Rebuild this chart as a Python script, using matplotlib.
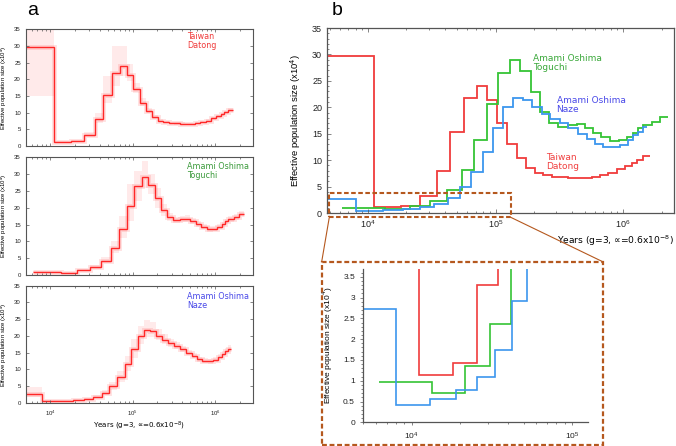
import numpy as np
import matplotlib
matplotlib.use("Agg")
import matplotlib.pyplot as plt
from matplotlib.patches import Rectangle
from matplotlib.lines import Line2D
from matplotlib.ticker import LogLocator, MultipleLocator, NullFormatter

plt.rcParams["font.family"] = ["Liberation Sans", "DejaVu Sans"]

# PSMC step curves: edges in years, Ne in units of 10^4
taiwan_t = [4000, 11100, 18100, 25700, 34700, 44000, 57000, 71100, 85300, 102100,
            122500, 146600, 173400, 204200, 237100, 275400, 319900, 372400, 432500,
            501200, 575400, 660700, 767400, 891300, 1038000, 1169000, 1279000,
            1442000, 1629000]
taiwan_ne = [29.7, 1.15, 1.42, 3.3, 8.0, 15.4, 21.8, 24.0, 21.4, 17.0, 13.0, 10.5,
             8.6, 7.6, 7.2, 6.9, 6.8, 6.7, 6.6, 6.6, 6.9, 7.2, 7.6, 8.3, 8.9, 9.5,
             10.1, 10.7]
taiwan_hi = [36, 1.6, 1.9, 4.2, 10, 21, 30, 30, 24.5, 19, 14.5, 11.3, 9.2, 8.1, 7.6,
             7.3, 7.2, 7.1, 7.0, 7.0, 7.3, 7.6, 8.0, 8.7, 9.3, 9.9, 10.6, 11.4]
taiwan_lo = [15, 0.9, 1.1, 2.8, 6.8, 13, 18, 21, 19.5, 15.8, 12, 9.8, 8.1, 7.2, 6.8,
             6.5, 6.4, 6.3, 6.2, 6.2, 6.5, 6.8, 7.2, 7.9, 8.5, 9.1, 9.6, 10.2]

toguchi_t = [6300, 13500, 21400, 30900, 41700, 54300, 68200, 86300, 105200, 130000,
             154900, 188800, 223400, 263000, 311200, 372400, 433500, 503500, 584800,
             668300, 790700, 935400, 1069000, 1205000, 1318000, 1442000, 1679000,
             1950000, 2265000]
toguchi_ne = [0.98, 0.70, 1.36, 2.36, 4.3, 8.1, 13.8, 20.6, 26.5, 29.0, 26.9, 22.8,
              19.2, 17.1, 16.3, 16.6, 16.8, 16.0, 15.1, 14.4, 13.7, 13.8, 14.4, 15.1,
              16.0, 16.6, 17.3, 18.2]
toguchi_hi = [1.2, 0.9, 1.7, 2.9, 5.5, 10, 17.5, 27, 31, 34, 30, 26, 21, 18.5, 17.3,
              17.5, 17.7, 16.9, 16.0, 15.2, 14.5, 14.6, 15.2, 15.9, 16.8, 17.4, 18.1, 19.0]
toguchi_lo = [0.8, 0.55, 1.1, 1.9, 3.5, 6.5, 11, 16, 22, 26, 24, 20, 17.5, 16, 15.4,
              15.7, 15.9, 15.1, 14.2, 13.6, 12.9, 13.0, 13.6, 14.3, 15.2, 15.8, 16.5, 17.4]

naze_t = [4470, 8000, 13000, 18800, 25500, 33000, 42200, 52500, 64600, 80200, 96200,
          115100, 138000, 163300, 192300, 230100, 267300, 320600, 372400, 445700,
          518800, 602600, 701500, 814700, 946200, 1100000, 1205000, 1318000, 1442000,
          1549000]
naze_ne = [2.72, 0.42, 0.55, 0.77, 1.10, 1.73, 2.92, 4.9, 7.7, 11.6, 16.0, 20.0, 21.7,
           21.3, 20.0, 18.7, 17.8, 17.0, 16.0, 15.0, 14.0, 13.0, 12.5, 12.4, 12.9, 13.8,
           14.7, 15.4, 16.2]
naze_hi = [4.6, 0.7, 0.8, 1.0, 1.4, 2.2, 3.7, 6.2, 9.5, 14, 19, 23, 24.8, 24, 22, 20.5,
           19.2, 18.2, 17, 15.9, 14.8, 13.8, 13.3, 13.2, 13.7, 14.6, 15.5, 16.3, 17.2]
naze_lo = [1.6, 0.25, 0.35, 0.55, 0.85, 1.35, 2.3, 3.9, 6.2, 9.5, 13.5, 17.5, 19.8,
           19.8, 18.8, 17.7, 16.8, 16.0, 15.1, 14.2, 13.3, 12.3, 11.8, 11.7, 12.2, 13.0,
           13.9, 14.6, 15.3]

RED = "#f03c3c"
GREEN = "#35c435"
BLUE = "#3c96ee"
BROWN = "#b5581e"
SPINE = "#555555"
ylab = "Effective population size (x10$^4$)"
# DejaVu Sans carries the proportional sign, Liberation Sans does not
xlab = "Years (g=3, \u221d=0.6x10$^{-8}$)"

fig = plt.figure(figsize=(6.76, 4.46), dpi=100)


def style_log_x(ax):
    ax.set_xscale("log")
    ax.xaxis.set_major_locator(LogLocator(base=10))
    ax.xaxis.set_minor_locator(LogLocator(base=10, subs=np.arange(2, 10)))
    ax.xaxis.set_minor_formatter(NullFormatter())


# ---- panel a: one box per population with bootstrap cloud ----
rects_a = [[0.038, 0.6726, 0.3358, 0.2617],
           [0.038, 0.3834, 0.3358, 0.2639],
           [0.038, 0.0971, 0.3358, 0.2623]]
series_a = [(taiwan_t, taiwan_ne, taiwan_lo, taiwan_hi, "Taiwan\nDatong", "#f03a3a", 0.975),
            (toguchi_t, toguchi_ne, toguchi_lo, toguchi_hi, "Amami Oshima\nToguchi", "#3a9a3a", 0.958),
            (naze_t, naze_ne, naze_lo, naze_hi, "Amami Oshima\nNaze", "#4848e8", 0.945)]

for i, (rect, s) in enumerate(zip(rects_a, series_a)):
    t, ne, lo, hi, name, tcol, ty = s
    ax = fig.add_axes(rect)
    ax.stairs(hi, t, baseline=lo, fill=True, color="#ffa0a0", alpha=0.22, lw=0)
    ax.stairs(ne, t, baseline=None, color="#ff3030", lw=3.5, alpha=0.15)
    ax.stairs(ne, t, baseline=None, color="#ff2828", lw=1.0)
    style_log_x(ax)
    ax.set_xlim(5070, 2.86e6)
    ax.set_ylim(0, 35)
    ax.set_yticks(range(0, 36, 5))
    ax.tick_params(which="both", direction="in", top=True, right=True,
                   labelsize=4.3, colors=SPINE, labelcolor="#222222", width=0.5)
    ax.tick_params(which="major", length=2.5)
    ax.tick_params(which="minor", length=1.3)
    ax.tick_params(axis="x", pad=4)
    for sp in ax.spines.values():
        sp.set_color(SPINE)
        sp.set_linewidth(0.8)
    ax.set_ylabel(ylab, fontsize=4.3)
    ax.yaxis.set_label_coords(-0.072, 0.5)
    ax.text(0.712, ty, name, transform=ax.transAxes, color=tcol, fontsize=5.8,
            va="top", ha="left", family="DejaVu Sans", linespacing=1.0)
    if i < 2:
        ax.tick_params(axis="x", labelbottom=False)
    else:
        ax.set_xlabel(xlab, fontsize=5.1, family="DejaVu Sans")
        ax.xaxis.set_label_coords(0.5, -0.145)

fig.text(27 / 676, 1 - 15 / 446, "a", fontsize=14, va="baseline")
fig.text(332 / 676, 1 - 15 / 446, "b", fontsize=14, va="baseline")

# ---- panel b: all three populations together ----
axb = fig.add_axes([0.4837, 0.5224, 0.5138, 0.4148])
axb.stairs(taiwan_ne, taiwan_t, baseline=None, color=RED, lw=1.3)
axb.stairs(toguchi_ne, toguchi_t, baseline=None, color=GREEN, lw=1.3)
axb.stairs(naze_ne, naze_t, baseline=None, color=BLUE, lw=1.3)
style_log_x(axb)
axb.set_xlim(4770, 2.52e6)
axb.set_ylim(0, 35)
axb.set_yticks(range(0, 36, 5))
axb.yaxis.set_minor_locator(MultipleLocator(1))
axb.tick_params(which="both", direction="in", top=True, right=False,
                labelsize=6.5, colors=SPINE, labelcolor="#222222", width=0.5)
axb.tick_params(which="major", length=3)
axb.tick_params(which="minor", length=1.5)
axb.tick_params(axis="x", pad=4)
for sp in axb.spines.values():
    sp.set_color(SPINE)
    sp.set_linewidth(0.9)
axb.set_ylabel(ylab, fontsize=6.8)
axb.yaxis.set_label_coords(-0.068, 0.5)
axb.set_xlabel(xlab, fontsize=6.6, loc="right", family="DejaVu Sans")
axb.xaxis.set_label_coords(1.0, -0.11)
axb.text(0.594, 0.858, "Amami Oshima\nToguchi", transform=axb.transAxes, color="#3aa83a",
         fontsize=6.5, va="top", family="DejaVu Sans", linespacing=1.0)
axb.text(0.661, 0.630, "Amami Oshima\nNaze", transform=axb.transAxes, color="#4848e8",
         fontsize=6.5, va="top", family="DejaVu Sans", linespacing=1.0)
axb.text(0.631, 0.322, "Taiwan\nDatong", transform=axb.transAxes, color="#f04040",
         fontsize=6.5, va="top", family="DejaVu Sans", linespacing=1.0)

# zoom box in panel b
axb.add_patch(Rectangle((4966, -0.81), 1.315e5 - 4966, 4.65, fill=False,
                        ec=BROWN, lw=1.5, ls=(0, (2.2, 1.2)), clip_on=False, zorder=5))

# ---- inset: zoom on the bottleneck ----
axi = fig.add_axes([0.5374, 0.0531, 0.3324, 0.343])
axi.stairs(taiwan_ne, taiwan_t, baseline=None, color=RED, lw=1.2)
axi.stairs(toguchi_ne, toguchi_t, baseline=None, color=GREEN, lw=1.2)
axi.stairs(naze_ne, naze_t, baseline=None, color=BLUE, lw=1.2)
style_log_x(axi)
axi.set_xlim(5000, 1.26e5)
axi.set_ylim(0, 3.68)
axi.set_yticks(np.arange(0, 3.6, 0.5))
axi.set_yticklabels(["0", "0.5", "1", "1.5", "2", "2.5", "3", "3.5"])
axi.yaxis.set_minor_locator(MultipleLocator(0.1))
axi.spines[["top", "right"]].set_visible(False)
for sp in ("left", "bottom"):
    axi.spines[sp].set_color(SPINE)
    axi.spines[sp].set_linewidth(0.9)
axi.tick_params(which="both", direction="out", labelsize=6, colors=SPINE,
                labelcolor="#222222", width=0.5)
axi.tick_params(which="major", length=2.5)
axi.tick_params(which="minor", length=1.3)
axi.set_ylabel(ylab, fontsize=6)
axi.yaxis.set_label_coords(-0.126, 0.5)

# dashed frame around inset and connector lines
W, H = 676, 446
fig.add_artist(Rectangle((321.7 / W, 1 - 445 / H), (602.7 - 321.7) / W, (445 - 261.7) / H,
                         transform=fig.transFigure, fill=False, ec=BROWN, lw=1.6,
                         ls=(0, (2.2, 1.2))))
fig.add_artist(Line2D([329.3 / W, 321.7 / W], [1 - 217.3 / H, 1 - 261.7 / H],
                      transform=fig.transFigure, color=BROWN, lw=0.8))
fig.add_artist(Line2D([510.7 / W, 602.7 / W], [1 - 217.3 / H, 1 - 261.7 / H],
                      transform=fig.transFigure, color=BROWN, lw=0.8))

fig.savefig("out.png", dpi=100)
